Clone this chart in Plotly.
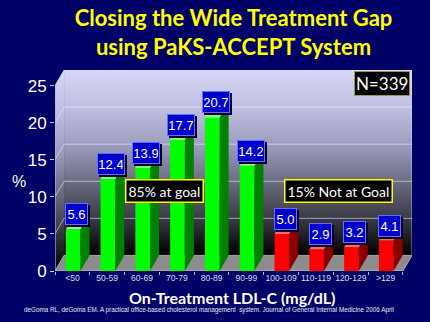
import plotly.graph_objects as go

# LDL-C bins and share of patients (%)
categories = ["<50", "50-59", "60-69", "70-79", "80-89", "90-99",
              "100-109", "110-119", "120-129", ">129"]
percent = [5.6, 12.4, 13.9, 17.7, 20.7, 14.2, 5.0, 2.9, 3.2, 4.1]
at_goal = [True, True, True, True, True, True, False, False, False, False]
y_ticks = [0, 5, 10, 15, 20, 25]

BG = "#000066"
DX, DY = 0.26, 2.1          # depth offset of the pseudo-3D box (data units)
X0, X1 = -0.5, 9.5
YTOP = 25
BAR_L, BAR_R = -0.19, 0.23  # front face extent around each category

W, H = 430, 322
ML, MR, MT, MB = 55, 18, 70, 51

fig = go.Figure()

wall_scale = [[0.0, "#000000"], [0.2, "#3a3a46"], [0.4, "#6c6c84"],
              [0.6, "#9e9ec0"], [0.8, "#bfbfe2"], [1.0, "#d6d6f6"]]

# left side wall
fig.add_trace(go.Scatter(
    x=[X0, X0, X0 + DX, X0 + DX, X0], y=[0, YTOP, YTOP + DY, DY, 0],
    mode="lines", line=dict(width=0), fill="toself",
    fillgradient=dict(type="vertical", colorscale=wall_scale, start=0, stop=YTOP + DY),
    hoverinfo="skip", showlegend=False))

# back wall
fig.add_trace(go.Scatter(
    x=[X0 + DX, X1 + DX, X1 + DX, X0 + DX, X0 + DX],
    y=[DY, DY, YTOP + DY, YTOP + DY, DY],
    mode="lines", line=dict(width=0), fill="toself",
    fillgradient=dict(type="vertical", colorscale=wall_scale, start=DY, stop=YTOP + DY),
    hoverinfo="skip", showlegend=False))

# gridlines on the walls
gx, gy = [], []
for v in y_ticks[1:]:
    gx += [X0, X0 + DX, X1 + DX, None]
    gy += [v, v + DY, v + DY, None]
fig.add_trace(go.Scatter(x=gx, y=gy, mode="lines",
                         line=dict(color="rgba(235,235,255,0.6)", width=1),
                         hoverinfo="skip", showlegend=False))

# right edge of back wall
fig.add_trace(go.Scatter(x=[X1 + DX, X1 + DX], y=[DY, YTOP + DY], mode="lines",
                         line=dict(color="rgba(235,235,255,0.6)", width=1),
                         hoverinfo="skip", showlegend=False))

# floor
fig.add_trace(go.Scatter(
    x=[X0, X1, X1 + DX, X0 + DX, X0], y=[0, 0, DY, DY, 0],
    mode="lines", line=dict(color="#a8a8a8", width=1), fill="toself",
    fillcolor="#8c8c8c", hoverinfo="skip", showlegend=False))

# front edges: floor front and left vertical
fig.add_trace(go.Scatter(x=[X0, X0, None, X0, X1], y=[YTOP, 0, None, 0, 0], mode="lines",
                         line=dict(color="#b8b8c8", width=1.2),
                         hoverinfo="skip", showlegend=False))

# bars on an overlaid subplot so they sit above the walls
idx = list(range(len(categories)))
front_cols = ["#00ff00" if g else "#ff0000" for g in at_goal]
side_cols = {True: "#008200", False: "#8a0000"}
top_cols = {True: "#7dff7d", False: "#ff6a6a"}

for flag in (True, False):
    sx, sy, tx, ty = [], [], [], []
    for i, v, g in zip(idx, percent, at_goal):
        if g != flag:
            continue
        l, r = i + BAR_L, i + BAR_R
        sx += [r, r + DX, r + DX, r, r, None]
        sy += [0, DY, v + DY, v, 0, None]
        tx += [l, r, r + DX, l + DX, l, None]
        ty += [v, v, v + DY, v + DY, v, None]
    fig.add_trace(go.Scatter(x=sx, y=sy, mode="lines", line=dict(width=0),
                             fill="toself", fillcolor=side_cols[flag],
                             xaxis="x2", yaxis="y2", hoverinfo="skip", showlegend=False))
    fig.add_trace(go.Scatter(x=tx, y=ty, mode="lines", line=dict(width=0),
                             fill="toself", fillcolor=top_cols[flag],
                             xaxis="x2", yaxis="y2", hoverinfo="skip", showlegend=False))

fig.add_trace(go.Bar(x=idx, y=percent, width=BAR_R - BAR_L, offset=BAR_L,
                     marker=dict(color=front_cols, line=dict(width=0)),
                     xaxis="x2", yaxis="y2", hoverinfo="skip", showlegend=False))

annotations = []

# value labels: blue boxes with a drop shadow
for i, v in zip(idx, percent):
    txt = f"{v:.1f}"
    box_w = 19 if len(txt) == 3 else 24
    common = dict(x=i + 0.12, y=v + 0.55, xref="x", yref="y", xanchor="center",
                  yanchor="bottom", showarrow=False, width=box_w, height=18,
                  borderpad=1, borderwidth=1)
    annotations.append(dict(common, text="&nbsp;", bgcolor="#000022", bordercolor="#000022",
                            font=dict(family="Liberation Sans, Arial", size=13, color="#000022"),
                            xshift=2, yshift=-2))
    annotations.append(dict(common, text=txt, bgcolor="#0000cc", bordercolor="#6a6aff",
                            font=dict(family="Liberation Sans, Arial", size=13, color="white")))

box_font = dict(family="Lato, Open Sans, sans-serif", size=14, color="white")
annotations += [
    dict(x=2.66, y=10.8, xref="x", yref="y", text="85% at goal", showarrow=False,
         bgcolor="black", bordercolor="#ffff00", borderwidth=1.5, borderpad=2,
         font=box_font),
    dict(x=7.66, y=10.8, xref="x", yref="y", text="15% Not at Goal", showarrow=False,
         bgcolor="black", bordercolor="#ffff00", borderwidth=1.5, borderpad=2,
         font=box_font),
    dict(x=8.9, y=25.3, xref="x", yref="y", text="N=339", showarrow=False,
         bgcolor="black", bordercolor="#9a9a40", borderwidth=1, borderpad=1,
         font=dict(family="Lato, Open Sans, sans-serif", size=17, color="white")),
    # axis titles and citation (positions in page pixels, converted below)
    dict(x=18.5, y=181, xref="paper", yref="paper", text="%", showarrow=False,
         font=dict(family="Liberation Sans, Arial", size=16, color="white")),
    dict(x=232, y=297, xref="paper", yref="paper", text="<b>On-Treatment LDL-C (mg/dL)</b>",
         showarrow=False, font=dict(family="Lato, Open Sans, sans-serif", size=16, color="white")),
    dict(x=209, y=310, xref="paper", yref="paper",
         text="deGoma RL, deGoma EM. A practical office-based cholesterol management  system. "
              "Journal of General Internal Medicine 2006 April",
         showarrow=False, font=dict(family="Liberation Sans, Arial", size=6.3, color="#e8e8f0")),
]

# page-pixel positions -> paper fractions of the plot area
pw, ph = W - ML - MR, H - MT - MB
for a in annotations:
    if a.get("xref") == "paper":
        a["x"] = (a["x"] - ML) / pw
        a["y"] = (H - MB - a["y"]) / ph
        a["xanchor"] = "center"
        a["yanchor"] = "middle"

fig.update_layout(
    width=W, height=H, margin=dict(l=ML, r=MR, t=MT, b=MB),
    paper_bgcolor=BG, plot_bgcolor=BG, showlegend=False,
    title=dict(text="Closing the Wide Treatment Gap<br>using PaKS-ACCEPT System",
               x=0.5, xref="paper", xanchor="center", y=1 - 26 / H, yanchor="middle",
               font=dict(family="Lato, Open Sans, sans-serif", size=22, color="#ffff00",
                         weight="bold")),
    xaxis=dict(range=[X0, X1 + DX], tickvals=idx, ticktext=categories, ticks="",
               showgrid=False, zeroline=False, showline=False,
               tickfont=dict(family="Liberation Sans, Arial", size=8.5, color="#dcdce8"),
               minor=dict(tick0=-0.5, dtick=1, ticks="outside", ticklen=3,
                          tickcolor="#b8b8c8", showgrid=False)),
    yaxis=dict(range=[0, YTOP + DY], tickvals=y_ticks, ticks="outside", ticklen=4,
               tickcolor="#c8c8d8", showgrid=False, zeroline=False, showline=False,
               tickfont=dict(family="Liberation Sans, Arial", size=17, color="white")),
    xaxis2=dict(range=[X0, X1 + DX], overlaying="x", visible=False),
    yaxis2=dict(range=[0, YTOP + DY], overlaying="y", visible=False),
    annotations=annotations,
)

fig.write_html("out.html")
